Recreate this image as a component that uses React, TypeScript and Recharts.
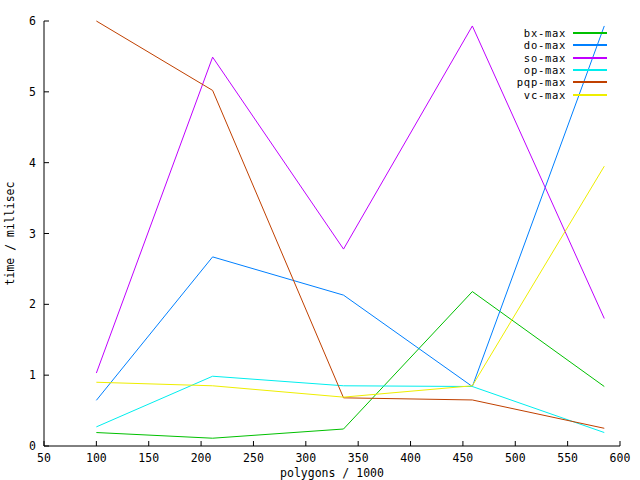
import React from 'react';
import { Label, Legend, Line, LineChart, XAxis, YAxis } from 'recharts';

const polygons = [100, 211, 336, 459, 585];
const bxMax = [0.19, 0.11, 0.24, 2.18, 0.84];
const doMax = [0.645, 2.67, 2.13, 0.84, 5.93];
const soMax = [1.03, 5.49, 2.78, 5.93, 1.8];
const opMax = [0.27, 0.985, 0.85, 0.84, 0.19];
const pqpMax = [6.0, 5.02, 0.68, 0.65, 0.25];
const vcMax = [0.9, 0.85, 0.69, 0.85, 3.95];

const xTicks = [50, 100, 150, 200, 250, 300, 350, 400, 450, 500, 550, 600];
const yTicks = [0, 1, 2, 3, 4, 5, 6];

const series = [
  { key: 'bx', name: 'bx-max', values: bxMax, color: '#00c000' },
  { key: 'do', name: 'do-max', values: doMax, color: '#0080ff' },
  { key: 'so', name: 'so-max', values: soMax, color: '#c000ff' },
  { key: 'op', name: 'op-max', values: opMax, color: '#00eeee' },
  { key: 'pqp', name: 'pqp-max', values: pqpMax, color: '#c04000' },
  { key: 'vc', name: 'vc-max', values: vcMax, color: '#eeee00' },
];

const data = polygons.map((x, i) => {
  const row: Record<string, number> = { x };
  series.forEach((s) => {
    row[s.key] = s.values[i];
  });
  return row;
});

const FONT = '"DejaVu Sans Mono", monospace';
const FS = 11.5;
const TICK_LEN = 5;

const BottomTick = (props: any) => {
  const { x, y, payload } = props;
  return (
    <g>
      <line x1={x} x2={x} y1={y - 8} y2={y - 8 - TICK_LEN} stroke="#000" />
      <text x={x} y={y + 8} textAnchor="middle" fontFamily={FONT} fontSize={FS} fill="#000">
        {payload.value}
      </text>
    </g>
  );
};

const LeftTick = (props: any) => {
  const { x, y, payload } = props;
  return (
    <g>
      <line x1={x + 8} x2={x + 8 + TICK_LEN} y1={y} y2={y} stroke="#000" />
      <text x={x} y={y + 4} textAnchor="end" fontFamily={FONT} fontSize={FS} fill="#000">
        {payload.value}
      </text>
    </g>
  );
};

const TopTick = (props: any) => {
  const { x, y } = props;
  return <line x1={x} x2={x} y1={y} y2={y + TICK_LEN} stroke="#000" />;
};

const RightTick = (props: any) => {
  const { x, y } = props;
  return <line x1={x} x2={x - TICK_LEN} y1={y} y2={y} stroke="#000" />;
};

// legend drawn in the series order (the library sorts its payload by name)
const LegendBox = () => (
  <div style={{ fontFamily: FONT, fontSize: 10.5, letterSpacing: '0.7px' }}>
    {series.map((s) => (
      <div
        key={s.key}
        style={{
          display: 'flex',
          justifyContent: 'flex-end',
          alignItems: 'center',
          height: 12.3,
          paddingRight: 33,
        }}
      >
        <span style={{ lineHeight: '12px' }}>{s.name}</span>
        <span style={{ display: 'inline-block', width: 34, height: 2, background: s.color, marginLeft: 7 }} />
      </div>
    ))}
  </div>
);

export default function App() {
  return (
    <div style={{ position: 'absolute', left: 0, top: 0, width: 640, height: 480, background: '#fff' }}>
      <LineChart width={640} height={480} data={data} margin={{ top: 21, right: 20, left: 0, bottom: 0 }}>
        <XAxis
          dataKey="x"
          type="number"
          domain={[50, 600]}
          ticks={xTicks}
          height={34}
          tickSize={0}
          tickMargin={8}
          tickLine={false}
          axisLine={{ stroke: '#000' }}
          tick={<BottomTick />}
          interval={0}
        >
          <Label
            value="polygons / 1000"
            position="insideBottom"
            offset={3}
            style={{ fontFamily: FONT, fontSize: FS, fill: '#000' }}
          />
        </XAxis>
        <XAxis
          xAxisId="top"
          dataKey="x"
          type="number"
          orientation="top"
          domain={[50, 600]}
          ticks={xTicks}
          height={0}
          tickSize={0}
          tickMargin={0}
          tickLine={false}
          axisLine={{ stroke: '#000' }}
          tick={<TopTick />}
          interval={0}
        >
          <Label
            value="ds9 / 0.250000"
            position="top"
            offset={3}
            style={{ fontFamily: FONT, fontSize: FS, fill: '#000' }}
          />
        </XAxis>
        <YAxis
          type="number"
          domain={[0, 6]}
          ticks={yTicks}
          width={44}
          tickSize={0}
          tickMargin={8}
          tickLine={false}
          axisLine={{ stroke: '#000' }}
          tick={<LeftTick />}
          interval={0}
        >
          <Label
            content={(p: any) => {
              const vb = p.viewBox;
              const cx = vb.x + 14;
              const cy = vb.y + vb.height / 2;
              return (
                <text
                  x={cx}
                  y={cy}
                  transform={`rotate(-90, ${cx}, ${cy})`}
                  textAnchor="middle"
                  fontFamily={FONT}
                  fontSize={FS}
                  fill="#000"
                >
                  time / millisec
                </text>
              );
            }}
          />
        </YAxis>
        <YAxis
          yAxisId="right"
          type="number"
          orientation="right"
          domain={[0, 6]}
          ticks={yTicks}
          width={0}
          tickSize={0}
          tickMargin={0}
          tickLine={false}
          axisLine={{ stroke: '#000' }}
          tick={<RightTick />}
          interval={0}
        />
        <Legend
          layout="horizontal"
          verticalAlign="middle"
          align="center"
          content={<LegendBox />}
          wrapperStyle={{ top: 27, left: 0, width: 640, height: 'auto' }}
        />
        {series.map((s) => (
          <Line
            key={s.key}
            dataKey={s.key}
            name={s.name}
            stroke={s.color}
            strokeWidth={1}
            dot={false}
            activeDot={false}
            type="linear"
            isAnimationActive={false}
          />
        ))}
      </LineChart>
    </div>
  );
}
